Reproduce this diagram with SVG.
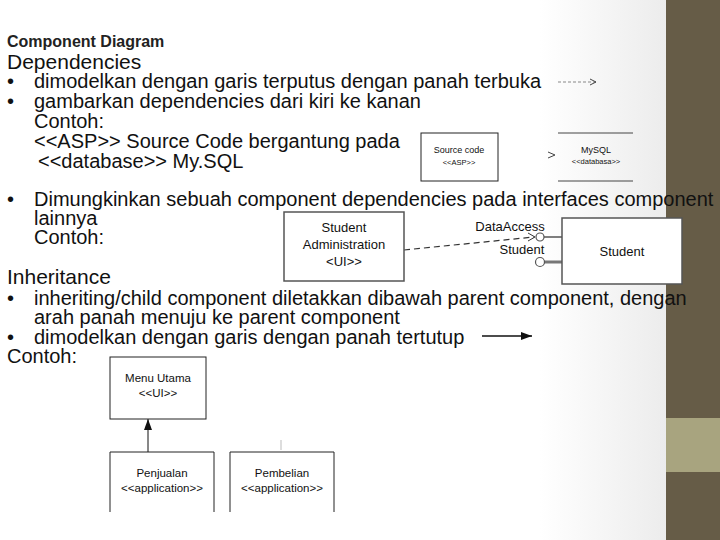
<svg xmlns="http://www.w3.org/2000/svg" width="720" height="540" viewBox="0 0 720 540">
<defs>
<linearGradient id="bg" x1="0" y1="0" x2="1" y2="0"><stop offset="0" stop-color="#ffffff"/><stop offset="0.75" stop-color="#ffffff"/><stop offset="1" stop-color="#e4e4e4"/></linearGradient>
<marker id="open" markerWidth="8" markerHeight="8" refX="7" refY="4" orient="auto" markerUnits="userSpaceOnUse"><path d="M1,1 L7,4 L1,7" fill="none" stroke="#444" stroke-width="1"/></marker>
<marker id="fill" markerWidth="12" markerHeight="10" refX="11" refY="5" orient="auto" markerUnits="userSpaceOnUse"><path d="M0,1 L11,5 L0,9 Z" fill="#111"/></marker>
<style>
.t{font-family:"Liberation Sans",Arial,sans-serif;fill:#111;font-size:20px}
.s{font-family:"Liberation Sans",Arial,sans-serif;fill:#111;font-size:13px;text-anchor:middle}
.x{font-family:"Liberation Sans",Arial,sans-serif;fill:#111;font-size:9px;text-anchor:middle}
.box{fill:#fff;stroke:#222;stroke-width:1}
.gbox{fill:#fff;stroke:#555;stroke-width:1.5}
</style>
</defs>
<rect width="720" height="540" fill="url(#bg)"/>
<rect x="666" y="0" width="54" height="540" fill="#665c47"/>
<rect x="666" y="418" width="54" height="54" fill="#a8a47f"/>
<text class="t" x="7" y="47" style="font-size:16px;font-weight:bold;fill:#222">Component Diagram</text>
<text class="t" x="7" y="69" style="font-size:21px">Dependencies</text>
<text class="t" x="7" y="88">•</text><text class="t" x="34" y="88">dimodelkan dengan garis terputus dengan panah terbuka</text>
<text class="t" x="7" y="108">•</text><text class="t" x="34" y="108">gambarkan dependencies dari kiri ke kanan</text>
<text class="t" x="34" y="128">Contoh:</text>
<text class="t" x="34" y="148">&lt;&lt;ASP&gt;&gt; Source Code  bergantung pada</text>
<text class="t" x="38" y="168">&lt;&lt;database&gt;&gt; My.SQL</text>
<text class="t" x="7" y="206">•</text><text class="t" x="34" y="206">Dimungkinkan sebuah component dependencies pada interfaces component</text>
<text class="t" x="34" y="225">lainnya</text>
<text class="t" x="34" y="244">Contoh:</text>
<text class="t" x="7" y="284" style="font-size:21px">Inheritance</text>
<text class="t" x="7" y="305">•</text><text class="t" x="34" y="305">inheriting/child component diletakkan dibawah parent component, dengan</text>
<text class="t" x="34" y="324">arah panah menuju ke parent component</text>
<text class="t" x="7" y="344">•</text><text class="t" x="34" y="344">dimodelkan dengan garis dengan panah tertutup</text>
<text class="t" x="7" y="363">Contoh:</text>
<g id="connectors">
<line x1="558" y1="82" x2="596" y2="82" stroke="#888" stroke-dasharray="3,2" marker-end="url(#open)"/>
<path d="M548,152 L555,155 L548,158" fill="none" stroke="#444"/>
<line x1="404" y1="250" x2="534" y2="237" stroke="#333" stroke-dasharray="6,4" stroke-width="1.2"/>
<path d="M528,233 L535,237 L528,241" fill="none" stroke="#333"/>
<line x1="544" y1="237" x2="562" y2="237" stroke="#555" stroke-width="1.5"/>
<circle cx="540" cy="237" r="4" fill="#fff" stroke="#555" stroke-width="1.2"/>
<line x1="544" y1="262" x2="562" y2="262" stroke="#777" stroke-width="3"/>
<circle cx="540" cy="262" r="4.5" fill="#fff" stroke="#555" stroke-width="1.2"/>
<line x1="482" y1="336" x2="532" y2="336" stroke="#111" stroke-width="1.5" marker-end="url(#fill)"/>
<line x1="148" y1="452" x2="148" y2="419" stroke="#111" stroke-width="1" marker-end="url(#fill)"/>
<line x1="281" y1="440" x2="281" y2="450" stroke="#bbb"/>
</g>
<g id="source-code"><rect class="box" x="421" y="133" width="77" height="48"/><text class="x" x="459" y="153">Source code</text><text class="x" x="459" y="165" style="font-size:7.5px">&lt;&lt;ASP&gt;&gt;</text></g>
<g id="mysql"><line x1="558" y1="133" x2="633" y2="133" stroke="#444"/><line x1="558" y1="181" x2="633" y2="181" stroke="#444"/><text class="x" x="596" y="153">MySQL</text><text class="x" x="596" y="164" style="font-size:7.5px">&lt;&lt;databasa&gt;&gt;</text></g>
<g id="student-admin"><rect class="gbox" x="284" y="212" width="120" height="69"/><text class="s" x="344" y="232">Student</text><text class="s" x="344" y="249">Administration</text><text class="s" x="344" y="266">&lt;UI&gt;&gt;</text></g>
<g id="student"><rect class="gbox" x="562" y="218" width="120" height="66"/><text class="s" x="622" y="256">Student</text></g>
<text class="s" x="510" y="231">DataAccess</text>
<text class="s" x="522" y="254">Student</text>
<g id="menu-utama"><rect class="box" x="110" y="357" width="96" height="62"/><text class="s" x="158" y="382" style="font-size:11.5px">Menu Utama</text><text class="s" x="158" y="397" style="font-size:11.5px">&lt;&lt;UI&gt;&gt;</text></g>
<g id="penjualan"><path class="box" d="M110,512 V452 H214 V512"/><text class="s" x="162" y="477" style="font-size:11.5px">Penjualan</text><text class="s" x="162" y="492" style="font-size:11.5px">&lt;&lt;application&gt;&gt;</text></g>
<g id="pembelian"><path class="box" d="M230,512 V452 H334 V512"/><text class="s" x="282" y="477" style="font-size:11.5px">Pembelian</text><text class="s" x="282" y="492" style="font-size:11.5px">&lt;&lt;application&gt;&gt;</text></g>
</svg>
